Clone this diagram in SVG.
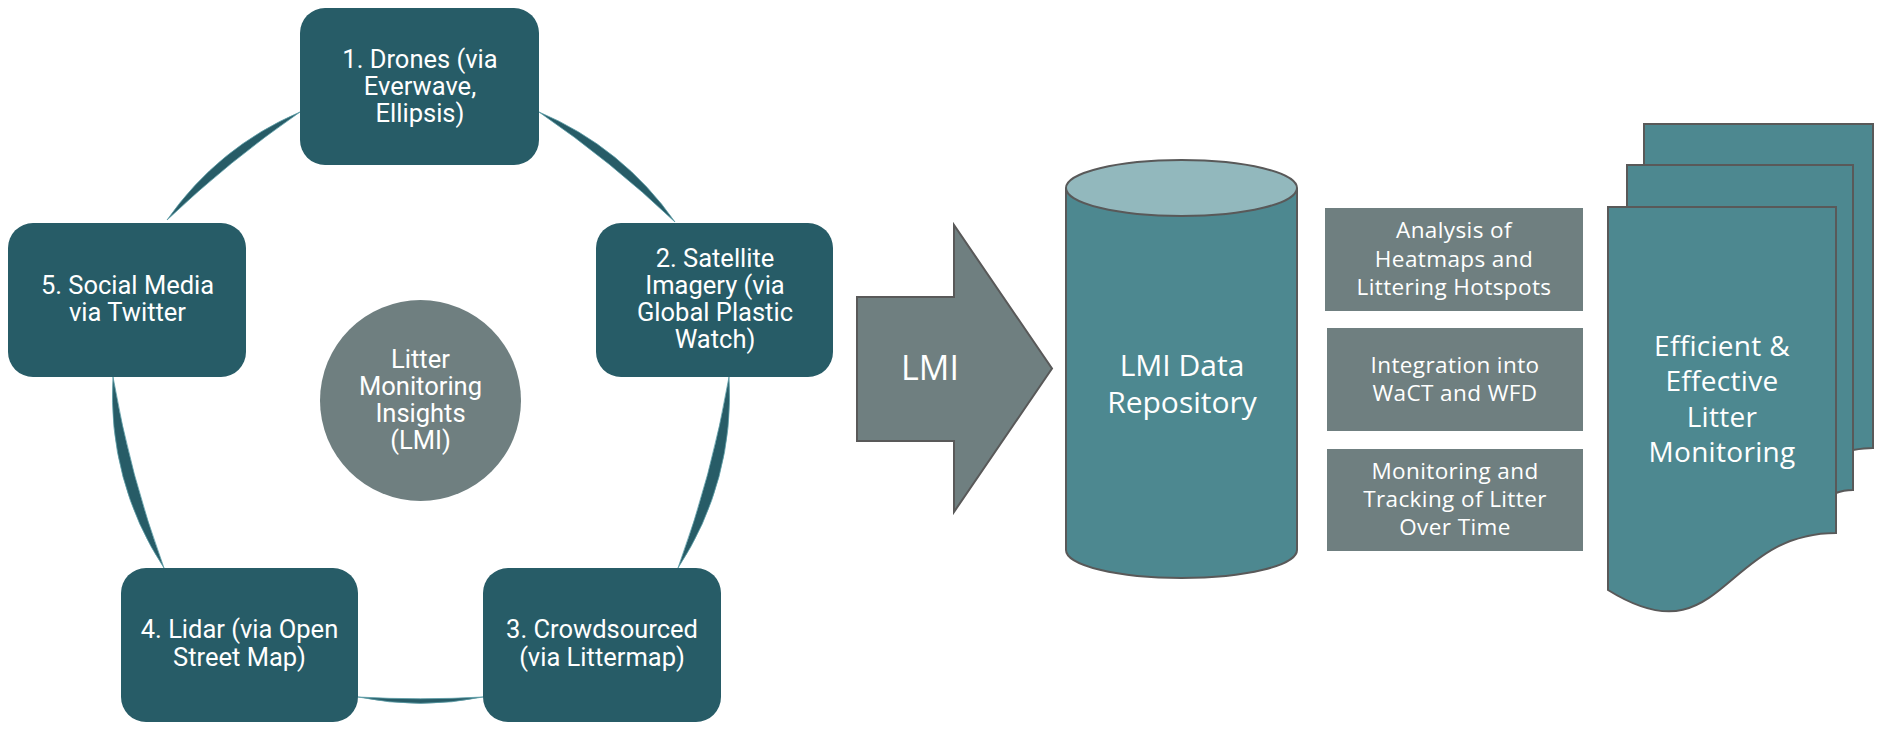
<svg xmlns="http://www.w3.org/2000/svg" width="1890" height="732" viewBox="0 0 1890 732">
  <style>
    .box { fill: #275c67; }
    .conn { fill: #275c67; stroke: #5d9ea8; stroke-width: 0.8; }
    .lt { font-family: Roboto, "Liberation Sans", sans-serif; font-size: 25.5px; fill: #ffffff; text-anchor: middle; }
    .rt { font-family: "Open Sans", "Liberation Sans", sans-serif; fill: #ffffff; text-anchor: middle; }
    .st { font-size: 22.5px; letter-spacing: 0.4px; }
    .gray { fill: #6f7f80; }
    .teal { fill: #4d8890; stroke: #595959; stroke-width: 2; }
  </style>
  <rect width="1890" height="732" fill="#ffffff"/>

  <g id="connectors">
    <path class="conn" d="M167,220 A312,312 0 0 1 300,112 A1100,1100 0 0 0 167,220 Z"/>
    <path class="conn" d="M539,112 A312,312 0 0 1 675,222 A1100,1100 0 0 0 539,112 Z"/>
    <path class="conn" d="M729,377 A312,312 0 0 1 678,568 A1100,1100 0 0 0 729,377 Z"/>
    <path class="conn" d="M483,697 A312,312 0 0 1 358,697 A1100,1100 0 0 0 483,697 Z"/>
    <path class="conn" d="M164,568 A312,312 0 0 1 113,377 A1100,1100 0 0 0 164,568 Z"/>
  </g>

  <g id="node1">
    <rect class="box" x="300" y="8" width="239" height="157" rx="25"/>
    <text class="lt"><tspan x="420" y="67.5">1. Drones (via</tspan><tspan x="420" y="95">Everwave,</tspan><tspan x="420" y="122">Ellipsis)</tspan></text>
  </g>
  <g id="node2">
    <rect class="box" x="596" y="223" width="237" height="154" rx="25"/>
    <text class="lt"><tspan x="715" y="266.5">2. Satellite</tspan><tspan x="715" y="293.5">Imagery (via</tspan><tspan x="715" y="320.5">Global Plastic</tspan><tspan x="715" y="347.5">Watch)</tspan></text>
  </g>
  <g id="node3">
    <rect class="box" x="483" y="568" width="238" height="154" rx="25"/>
    <text class="lt"><tspan x="602" y="638">3. Crowdsourced</tspan><tspan x="602" y="666">(via Littermap)</tspan></text>
  </g>
  <g id="node4">
    <rect class="box" x="121" y="568" width="237" height="154" rx="25"/>
    <text class="lt"><tspan x="239.5" y="638">4. Lidar (via Open</tspan><tspan x="239.5" y="666">Street Map)</tspan></text>
  </g>
  <g id="node5">
    <rect class="box" x="8" y="223" width="238" height="154" rx="25"/>
    <text class="lt"><tspan x="127.5" y="293.5">5. Social Media</tspan><tspan x="127.5" y="321">via Twitter</tspan></text>
  </g>
  <g id="center">
    <circle class="gray" cx="420.5" cy="400.5" r="100.5"/>
    <text class="lt"><tspan x="420.5" y="367.5">Litter</tspan><tspan x="420.5" y="394.5">Monitoring</tspan><tspan x="420.5" y="421.5">Insights</tspan><tspan x="420.5" y="448.5">(LMI)</tspan></text>
  </g>

  <g id="arrow">
    <path class="gray" stroke="#595959" stroke-width="2" d="M857,297 H954 V225 L1052,368.5 L954,512 V441 H857 Z"/>
    <text class="rt" x="930" y="380" font-size="34">LMI</text>
  </g>

  <g id="repository">
    <path fill="#4d8890" stroke="#595959" stroke-width="2" d="M1066,188 V550 A115.5,28 0 0 0 1297,550 V188"/>
    <ellipse cx="1181.5" cy="188" rx="115.5" ry="28" fill="#92b8bd" stroke="#595959" stroke-width="2"/>
    <text class="rt" font-size="30"><tspan x="1182" y="376">LMI Data</tspan><tspan x="1182" y="413">Repository</tspan></text>
  </g>

  <g id="analysis">
    <rect class="gray" x="1325" y="208" width="258" height="103"/>
    <text class="rt st"><tspan x="1454" y="238">Analysis of</tspan><tspan x="1454" y="267">Heatmaps and</tspan><tspan x="1454" y="295">Littering Hotspots</tspan></text>
  </g>
  <g id="integration">
    <rect class="gray" x="1327" y="328" width="256" height="103"/>
    <text class="rt st"><tspan x="1455" y="373">Integration into</tspan><tspan x="1455" y="401">WaCT and WFD</tspan></text>
  </g>
  <g id="tracking">
    <rect class="gray" x="1327" y="449" width="256" height="102"/>
    <text class="rt st"><tspan x="1455" y="478.5">Monitoring and</tspan><tspan x="1455" y="506.5">Tracking of Litter</tspan><tspan x="1455" y="534.5">Over Time</tspan></text>
  </g>

  <g id="documents">
    <path class="teal" d="M1644,124 H1873 V448 C1866,448 1859,449 1853,450 L1644,460 Z"/>
    <path class="teal" d="M1627,165 H1853 V490 C1846,490 1841,491 1836,493 L1627,500 Z"/>
    <path class="teal" d="M1608,207 H1836 V533 C1722,533 1722,661 1608,590 Z"/>
    <text class="rt" font-size="28" letter-spacing="0.3"><tspan x="1722" y="355.5">Efficient &amp;</tspan><tspan x="1722" y="391">Effective</tspan><tspan x="1722" y="426.5">Litter</tspan><tspan x="1722" y="462">Monitoring</tspan></text>
  </g>
</svg>
